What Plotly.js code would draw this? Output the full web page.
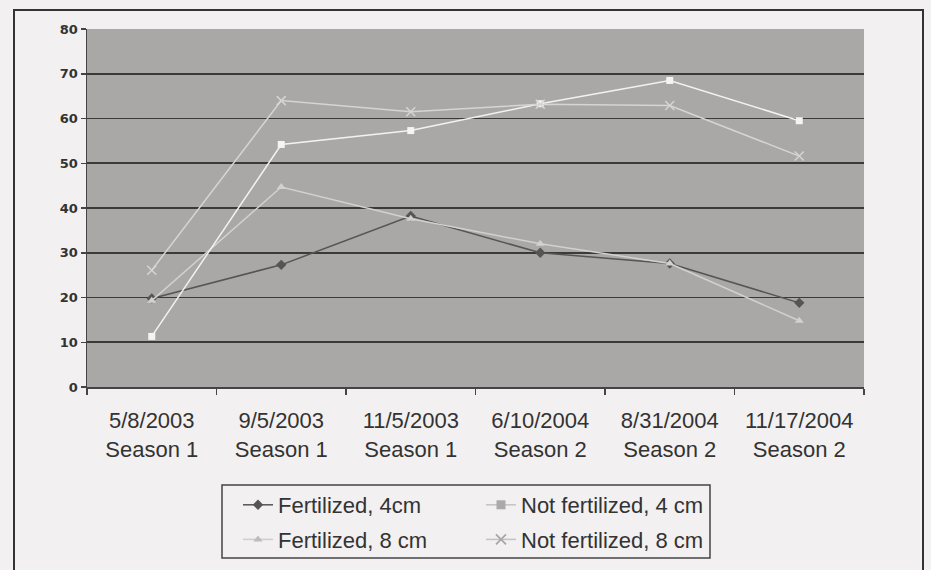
<!DOCTYPE html>
<html>
<head>
<meta charset="utf-8">
<script src="https://cdn.plot.ly/plotly-3.0.1.min.js"></script>
<style>
html,body{margin:0;padding:0;background:#f2f0f0;}
#chart{width:931px;height:570px;}
</style>
</head>
<body>
<div id="chart"></div>
<script>
var categories = ["5/8/2003<br>Season 1", "9/5/2003<br>Season 1", "11/5/2003<br>Season 1",
                  "6/10/2004<br>Season 2", "8/31/2004<br>Season 2", "11/17/2004<br>Season 2"];
var fertilized4 = [19.8, 27.3, 38.2, 30.0, 27.6, 18.8];
var notFertilized4 = [11.3, 54.2, 57.3, 63.3, 68.5, 59.5];
var fertilized8 = [19.3, 44.7, 37.6, 32.0, 27.6, 14.8];
var notFertilized8 = [26.1, 64.0, 61.5, 63.2, 62.9, 51.6];
var seriesNames = ["Fertilized, 4cm", "Not fertilized, 4 cm", "Fertilized, 8 cm", "Not fertilized, 8 cm"];
var yTicks = [0, 10, 20, 30, 40, 50, 60, 70, 80];

var plotStyles = [
  {line: {color: "#555555", width: 1.5}, marker: {symbol: "diamond", size: 8, color: "#555555"}},
  {line: {color: "#d2d0d0", width: 1.5}, marker: {symbol: "triangle-up", size: 8, color: "#d2d0d0"}},
  {line: {color: "#f2f2f2", width: 1.5}, marker: {symbol: "square", size: 7, color: "#f4f4f4"}},
  {line: {color: "#d6d4d4", width: 1.5}, marker: {symbol: "x-thin", size: 9, color: "#d6d4d4", line: {color: "#d6d4d4", width: 1.5}}}
];
var legendStyles = [
  {line: {color: "#555555", width: 1.5}, marker: {symbol: "diamond", size: 8, color: "#555555"}},
  {line: {color: "#cfcdcd", width: 1.5}, marker: {symbol: "triangle-up", size: 8, color: "#bdbbbb"}},
  {line: {color: "#c4c2c2", width: 1.5}, marker: {symbol: "square", size: 9, color: "#aaaaaa"}},
  {line: {color: "#c4c2c2", width: 1.5}, marker: {symbol: "x-thin", size: 10, color: "#a8a6a6", line: {color: "#a8a6a6", width: 1.8}}}
];
var seriesData = [fertilized4, fertilized8, notFertilized4, notFertilized8];
var seriesLabel = [seriesNames[0], seriesNames[2], seriesNames[1], seriesNames[3]];
var legendIds = ["legend", "legend", "legend2", "legend2"];

var traces = [];
for (var i = 0; i < 4; i++) {
  traces.push({x: categories, y: seriesData[i], name: seriesLabel[i], type: "scatter", mode: "lines+markers",
    line: plotStyles[i].line, marker: plotStyles[i].marker, showlegend: false, cliponaxis: false});
}
for (var j = 0; j < 4; j++) {
  traces.push({x: [null], y: [null], name: seriesLabel[j], type: "scatter", mode: "lines+markers",
    line: legendStyles[j].line, marker: legendStyles[j].marker, showlegend: true,
    legend: legendIds[j], legendgroup: "g" + j});
}

var W = 777, H = 358, L = 87, T = 29;
function px(x){ return (x - L) / W; }
function py(y){ return (T + H - y) / H; }

var legendCommon = {
  orientation: "v", xanchor: "left", yanchor: "top",
  bgcolor: "rgba(0,0,0,0)", borderwidth: 0, tracegroupgap: 3,
  font: {family: "Liberation Sans, Arial, sans-serif", size: 22, color: "#333333"}
};

var layout = {
  width: 931, height: 570,
  margin: {l: L, r: 931 - L - W, t: T, b: 570 - T - H, autoexpand: false},
  paper_bgcolor: "#f2f0f0",
  plot_bgcolor: "#aaa8a6",
  showlegend: true,
  legend: Object.assign({}, legendCommon, {x: px(238), y: py(484)}),
  legend2: Object.assign({}, legendCommon, {x: px(481), y: py(484)}),
  xaxis: {
    type: "category", range: [-0.5, 5.5], autorange: false, showgrid: false,
    showline: true, linecolor: "#444444", linewidth: 1.5,
    ticks: "outside", tickson: "boundaries", ticklen: 6, tickcolor: "#444444", tickwidth: 1.5,
    ticklabelstandoff: 13,
    tickfont: {family: "Liberation Sans, Arial, sans-serif", size: 22, color: "#333333"},
    zeroline: false
  },
  yaxis: {
    range: [0, 80], autorange: false, tickvals: yTicks, ticktext: yTicks.map(String),
    showgrid: true, gridcolor: "#3a3a3a", gridwidth: 1.8,
    showline: true, linecolor: "#444444", linewidth: 1.5,
    ticks: "outside", ticklen: 5, tickcolor: "#444444", tickwidth: 1.5,
    tickfont: {family: "DejaVu Sans, sans-serif", size: 13, color: "#333333", weight: "bold"},
    zeroline: false
  },
  shapes: [
    {type: "rect", xref: "paper", yref: "paper", x0: px(14), x1: px(923), y0: py(10), y1: py(574),
     line: {color: "#333333", width: 2}, fillcolor: "rgba(0,0,0,0)", layer: "below"},
    {type: "rect", xref: "paper", yref: "paper", x0: px(222), x1: px(710), y0: py(485), y1: py(558),
     line: {color: "#444444", width: 1.5}, fillcolor: "rgba(0,0,0,0)"}
  ]
};

Plotly.newPlot("chart", traces, layout, {displayModeBar: false, staticPlot: true});
</script>
</body>
</html>
